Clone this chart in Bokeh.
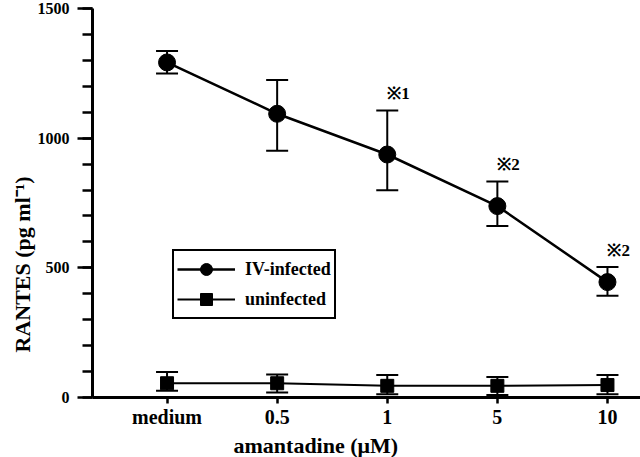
from bokeh.plotting import figure
from bokeh.models import (ColumnDataSource, Whisker, TeeHead, Legend, LegendItem,
                          FixedTicker, Range1d, Title)
from bokeh.core.properties import value
from bokeh.embed import file_html
from bokeh.resources import INLINE

# ---- data ----
categories = ["medium", "0.5", "1", "5", "10"]
iv_mean = [1292, 1094, 937, 738, 445]
iv_upper = [1336, 1224, 1107, 833, 503]
iv_lower = [1249, 951, 799, 661, 392]
un_mean = [55, 55, 45, 45, 48]
un_upper = [98, 89, 87, 79, 87]
un_lower = [26, 19, 13, 10, 13]
notes = ["", "", "※1", "※2", "※2"]
y_ticks = [0, 500, 1000, 1500]

FONT = "Liberation Serif"
xs = list(range(len(categories)))

iv_src = ColumnDataSource(dict(x=xs, y=iv_mean, up=iv_upper, lo=iv_lower, note=notes))
un_src = ColumnDataSource(dict(x=xs, y=un_mean, up=un_upper, lo=un_lower))

p = figure(width=640, height=457, output_backend="svg", toolbar_location=None,
           x_range=Range1d(-0.677, 4.30), y_range=Range1d(0, 1500),
           min_border_left=92, min_border_right=0, min_border_top=8, min_border_bottom=0)
p.outline_line_color = None
p.grid.visible = False
p.background_fill_color = "white"

# axes
p.xaxis.ticker = FixedTicker(ticks=xs)
p.xaxis.major_label_overrides = {i: c for i, c in enumerate(categories)}
p.xaxis.minor_tick_line_color = None
p.xaxis.major_tick_in = 0
p.xaxis.major_tick_out = 6
p.xaxis.major_label_standoff = 2
p.xaxis.major_label_text_font = FONT
p.xaxis.major_label_text_font_style = "bold"
p.xaxis.major_label_text_font_size = "20px"
p.xaxis.major_label_text_color = "black"

p.yaxis.ticker = FixedTicker(ticks=y_ticks, minor_ticks=list(range(0, 1501, 100)))
p.yaxis.major_tick_in = 0
p.yaxis.major_tick_out = 15
p.yaxis.minor_tick_in = 0
p.yaxis.minor_tick_out = 10
p.yaxis.major_label_standoff = 8
p.yaxis.major_label_text_font = FONT
p.yaxis.major_label_text_font_style = "bold"
p.yaxis.major_label_text_font_size = "16px"
p.yaxis.major_label_text_color = "black"

for ax in (p.xaxis, p.yaxis):
    ax.axis_line_width = 3
    ax.major_tick_line_width = 2.5
    ax.minor_tick_line_width = 2.5
    ax.axis_line_color = "black"
    ax.major_tick_line_color = "black"
for ax in p.yaxis:
    ax.minor_tick_line_color = "black"

# error bars
for src in (iv_src, un_src):
    w = Whisker(base="x", upper="up", lower="lo", source=src,
                line_width=2, line_color="black",
                upper_head=TeeHead(size=22, line_width=2, line_color="black"),
                lower_head=TeeHead(size=22, line_width=2, line_color="black"))
    p.add_layout(w)

# series
iv_line = p.line("x", "y", source=iv_src, line_width=2.5, line_color="black")
iv_pts = p.scatter("x", "y", source=iv_src, marker="circle", size=17,
                   fill_color="black", line_color="black")
un_line = p.line("x", "y", source=un_src, line_width=2, line_color="black")
un_pts = p.scatter("x", "y", source=un_src, marker="square", size=13,
                   fill_color="black", line_color="black")

# significance marks
p.text("x", "up", text="note", source=iv_src, text_font=value(FONT),
       text_font_style="bold", text_font_size="17px", text_color="black",
       text_align="left", text_baseline="bottom", x_offset=0, y_offset=-7)

# legend
legend = Legend(items=[LegendItem(label="IV-infected", renderers=[iv_line, iv_pts]),
                       LegendItem(label="uninfected", renderers=[un_line, un_pts])],
                location=(80, 78), glyph_width=58, glyph_height=30, spacing=0,
                padding=3, margin=0, label_standoff=10,
                label_text_font=FONT, label_text_font_style="bold",
                label_text_font_size="18px", label_text_color="black",
                border_line_color="black", border_line_width=2, border_line_alpha=1,
                background_fill_color="white", background_fill_alpha=1)
p.add_layout(legend, "center")

# axis titles
p.add_layout(Title(text="amantadine (μM)", align="left", offset=141, standoff=0,
                   text_font=FONT, text_font_style="bold", text_font_size="22px",
                   text_color="black"), "below")
p.add_layout(Title(text="RANTES (pg ml⁻¹)", align="left", offset=45, standoff=0,
                   text_font=FONT, text_font_style="bold", text_font_size="22px",
                   text_color="black"), "left")

open("out.html", "w").write(file_html(p, INLINE))
